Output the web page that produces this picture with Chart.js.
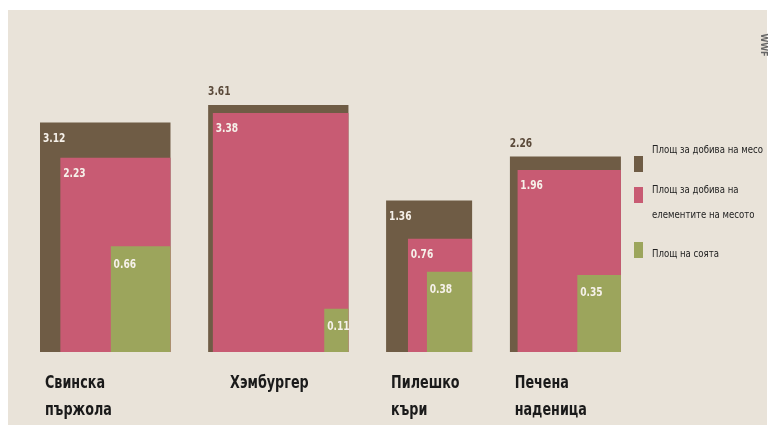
<!DOCTYPE html>
<html>
<head>
<meta charset="utf-8">
<script src="https://cdn.jsdelivr.net/npm/chart.js@4.4.1/dist/chart.umd.min.js"></script>
<style>
  html, body { margin: 0; padding: 0; background: #ffffff; }
  #wrap { width: 770px; height: 425px; position: relative; }
</style>
</head>
<body>
<div id="wrap"><canvas id="chart"></canvas></div>
<script>
// Nested squares: side of each square is proportional to sqrt(value)
const categories = [["Свинска", "пържола"], ["Хэмбургер"], ["Пилешко", "къри"], ["Печена", "наденица"]]
const meatArea = [3.12, 3.61, 1.36, 2.26]        // Площ за добива на месо
const elementsArea = [2.23, 3.38, 0.76, 1.96]    // Площ за добива на елементите на месото
const soyArea = [0.66, 0.11, 0.38, 0.35]         // Площ на соята
const legendLabels = [["Площ за добива на месо"], ["Площ за добива на", "елементите на месото"], ["Площ на соята"]]

const colors = ["#6f5c45", "#c85b73", "#9ca55c"]
const GAP = 0.505
const FONT = "'DejaVu Sans', sans-serif"

// right edge of each group (all squares bottom-right aligned)
const rights = []
let cursor = 0
meatArea.forEach((v, i) => {
  cursor += Math.sqrt(v)
  rights.push(cursor)
  cursor += GAP
})

function squares(values) {
  const pts = []
  values.forEach((v, i) => {
    const s = Math.sqrt(v), r = rights[i]
    pts.push({x: r - s, y: 0}, {x: r - s, y: s}, {x: r, y: s}, {x: r, y: 0}, {x: r, y: null})
  })
  return pts
}

const series = [meatArea, elementsArea, soyArea]

// the source uses a condensed face, so squeeze the text horizontally
function narrowText(ctx, t, x, y, sx) {
  ctx.save()
  ctx.translate(x, y)
  ctx.scale(sx, 1)
  ctx.fillText(t, 0, 0)
  ctx.restore()
}

const bgPlugin = {
  id: "bg",
  beforeDraw(chart) {
    const ctx = chart.ctx
    ctx.save()
    ctx.fillStyle = "#ffffff"
    ctx.fillRect(0, 0, chart.width, chart.height)
    ctx.fillStyle = "#e9e3d9"
    ctx.fillRect(8, 10, chart.width - 11, chart.height - 10)
    ctx.restore()
  }
}

const labelPlugin = {
  id: "labels",
  afterDatasetsDraw(chart) {
    const ctx = chart.ctx
    const xs = chart.scales.x, ys = chart.scales.y
    ctx.save()
    ctx.textBaseline = "middle"
    ctx.textAlign = "left"
    series.forEach((vals, k) => {
      vals.forEach((v, i) => {
        const s = Math.sqrt(v)
        const left = xs.getPixelForValue(rights[i] - s)
        const top = ys.getPixelForValue(s)
        ctx.font = "bold 13px " + FONT
        // brown label goes above when the brown rim is too thin
        const thin = k === 0 && Math.sqrt(meatArea[i]) - Math.sqrt(elementsArea[i]) < 0.15
        if (thin) {
          ctx.fillStyle = "#5b4a3a"
          narrowText(ctx, v.toFixed(2), left, top - 13, 0.7)
        } else {
          ctx.fillStyle = "#f6f1ea"
          narrowText(ctx, v.toFixed(2), left + 3, top + (k === 2 ? 18 : 16), 0.7)
        }
      })
    })

    // category names under the squares
    const base = ys.getPixelForValue(0)
    ctx.fillStyle = "#1a1a1a"
    ctx.font = "bold 17px " + FONT
    categories.forEach((lines, i) => {
      const left = xs.getPixelForValue(rights[i] - Math.sqrt(meatArea[i]))
      const off = lines.length === 1 ? 22 : 5
      lines.forEach((t, j) => narrowText(ctx, t, left + off, base + 32 + j * 27, 0.75))
    })

    // legend
    const lx = 634
    const rows = [[164, [150]], [195, [190, 215]], [250, [254]]]
    ctx.font = "11px " + FONT
    rows.forEach(([by, ty], k) => {
      ctx.fillStyle = colors[k]
      ctx.fillRect(lx, by - 8, 9, 16)
      ctx.fillStyle = "#222"
      legendLabels[k].forEach((t, j) => narrowText(ctx, t, lx + 18, ty[j], 0.78))
    })

    // source mark
    ctx.translate(763, 45)
    ctx.rotate(Math.PI / 2)
    ctx.textAlign = "center"
    ctx.font = "bold 8px " + FONT
    ctx.fillStyle = "#666"
    ctx.fillText("WWF", 0, 0)
    ctx.restore()
  }
}

new Chart(document.getElementById("chart"), {
  type: "scatter",
  data: {
    datasets: series.map((vals, k) => ({
      type: "line",
      data: squares(vals),
      showLine: true,
      spanGaps: false,
      fill: "origin",
      backgroundColor: colors[k],
      borderWidth: 0,
      borderColor: colors[k],
      pointRadius: 0,
      tension: 0,
      order: 3 - k
    }))
  },
  options: {
    responsive: true,
    maintainAspectRatio: false,
    animation: false,
    layout: { padding: 0 },
    plugins: {
      legend: { display: false },
      tooltip: { enabled: false }
    },
    scales: {
      x: { type: "linear", display: false, min: -0.5405, max: 9.865 },
      y: { type: "linear", display: false, min: -0.562, max: 2.708 }
    }
  },
  plugins: [bgPlugin, labelPlugin]
})
</script>
</body>
</html>
